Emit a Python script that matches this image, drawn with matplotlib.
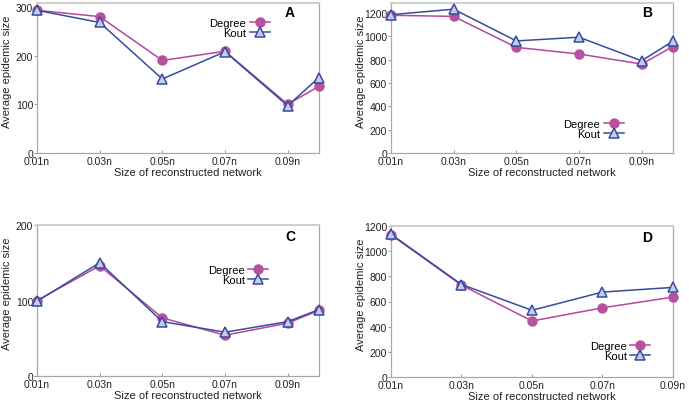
import matplotlib
matplotlib.use("Agg")
import matplotlib.pyplot as plt

plt.rcParams['font.family'] = ['Liberation Sans', 'DejaVu Sans']

x6 = [0.01, 0.03, 0.05, 0.07, 0.09, 0.10]
x5 = [0.01, 0.03, 0.05, 0.07, 0.09]
xtick_pos = [0.01, 0.03, 0.05, 0.07, 0.09]
xtick_labels = ["0.01n", "0.03n", "0.05n", "0.07n", "0.09n"]

a_degree = [293, 280, 190, 209, 100, 137]
a_kout = [293, 268, 152, 208, 97, 155]
b_degree = [1180, 1170, 905, 848, 762, 912]
b_kout = [1185, 1232, 960, 992, 790, 958]
c_degree = [100, 146, 77, 54, 70, 87]
c_kout = [99, 150, 72, 58, 72, 88]
d_degree = [1130, 730, 445, 550, 635]
d_kout = [1135, 735, 530, 675, 712]

a_yticks = [0, 100, 200, 300]
b_yticks = [0, 200, 400, 600, 800, 1000, 1200]
c_yticks = [0, 100, 200]
d_yticks = [0, 200, 400, 600, 800, 1000, 1200]

W, H = 689, 402
fig = plt.figure(figsize=(W / 100, H / 100), dpi=100)

deg_color = '#b3479c'
deg_fill = '#b7509f'
kout_color = '#3a4b9c'
kout_fill = '#c3cdf0'


def px_axes(l, r, t, b):
    return fig.add_axes([l / W, 1 - b / H, (r - l) / W, (b - t) / H])


panels = [
    dict(box=(37, 319, 4, 154), x=x6, deg=a_degree, kout=a_kout, ylim=(0, 308),
         yt=a_yticks, xlim=(0.01, 0.10), letter='A', lpos=(0.897, 0.94),
         leg=(0.825, 0.835)),
    dict(box=(391, 673, 4, 154), x=x6, deg=b_degree, kout=b_kout, ylim=(0, 1285),
         yt=b_yticks, xlim=(0.01, 0.10), letter='B', lpos=(0.91, 0.94),
         leg=(0.825, 0.16)),
    dict(box=(37, 319, 226, 377), x=x6, deg=c_degree, kout=c_kout, ylim=(0, 200),
         yt=c_yticks, xlim=(0.01, 0.10), letter='C', lpos=(0.897, 0.927),
         leg=(0.82, 0.67)),
    dict(box=(391, 673, 227, 378), x=x5, deg=d_degree, kout=d_kout, ylim=(0, 1200),
         yt=d_yticks, xlim=(0.01, 0.09), letter='D', lpos=(0.91, 0.927),
         leg=(0.92, 0.175)),
]

for p in panels:
    ax = px_axes(*p['box'])
    ax.plot(p['x'], p['deg'], color=deg_color, lw=1.1, marker='o', ms=6.5,
            mfc=deg_fill, mec=deg_fill, label='Degree', clip_on=False, zorder=3)
    ax.plot(p['x'], p['kout'], color=kout_color, lw=1.1, marker='^', ms=7.5,
            mfc=kout_fill, mec=kout_color, mew=1.1, label='Kout', clip_on=False, zorder=4)
    ax.set_xlim(*p['xlim'])
    ax.set_ylim(*p['ylim'])
    ax.set_xticks(xtick_pos)
    ax.set_xticklabels(xtick_labels)
    ax.set_yticks(p['yt'])
    ax.tick_params(axis='both', labelsize=7.5, length=2, width=0.6, pad=0.8,
                   color='#888888', labelcolor='#222222')
    ax.tick_params(axis='x', direction='in', pad=2)
    for s in ['left', 'bottom', 'right']:
        ax.spines[s].set_color('#a8a8a8')
        ax.spines[s].set_linewidth(0.9)
    ax.spines['top'].set_color('#d0d0d0')
    ax.spines['top'].set_linewidth(1.5)
    ax.set_xlabel('Size of reconstructed network', fontsize=8, color='#222222')
    ax.xaxis.set_label_coords(0.535, -0.092)
    ax.set_ylabel('Average epidemic size', fontsize=8, color='#222222')
    ax.yaxis.set_label_coords(-0.088, 0.55)
    ax.text(p['lpos'][0], p['lpos'][1], p['letter'], transform=ax.transAxes,
            fontsize=10, fontweight='bold', ha='center', va='center')
    ax.legend(loc='center right', bbox_to_anchor=p['leg'], frameon=False,
              markerfirst=False, fontsize=8, handlelength=1.8, handletextpad=0.3,
              labelspacing=0.0, borderpad=0, borderaxespad=0)

fig.savefig('out.png', dpi=100)
